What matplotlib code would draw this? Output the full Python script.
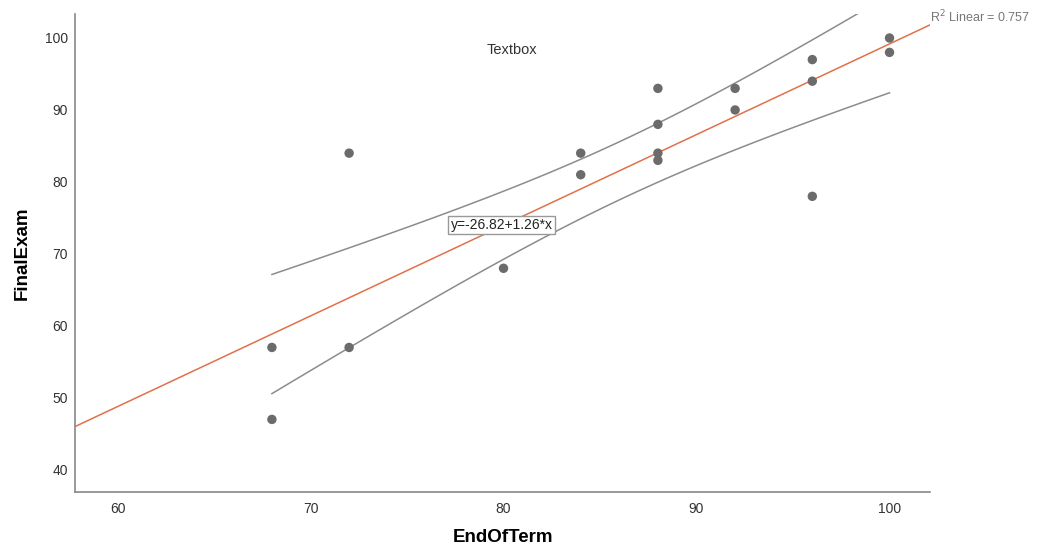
import numpy as np
import matplotlib.pyplot as plt

plt.rcParams['font.family'] = ['Liberation Sans', 'DejaVu Sans']

# DATA
end_of_term = [68, 68, 72, 72, 80, 84, 84, 88, 88, 88, 88, 92, 92, 96, 96, 96, 100, 100]
final_exam = [57, 47, 84, 57, 68, 84, 81, 93, 88, 84, 83, 93, 90, 97, 94, 78, 100, 98]

# FIT AS PRINTED ON THE CHART
intercept = -26.82
slope = 1.26
r_squared = 0.757
t_crit = 2.120  # t(0.975, df=16)

x = np.array(end_of_term, dtype=float)
y = np.array(final_exam, dtype=float)
n = len(x)
resid = y - (intercept + slope * x)
s = np.sqrt(np.sum(resid**2) / (n - 2))
sxx = np.sum((x - x.mean())**2)

x_lo, x_hi = 57.8, 102.1
fit_x = np.linspace(x_lo, x_hi, 100)
band_x = np.linspace(x.min(), x.max(), 100)
band_fit = intercept + slope * band_x
half = t_crit * s * np.sqrt(1 / n + (band_x - x.mean())**2 / sxx)

fig = plt.figure(figsize=(10.38, 5.48), dpi=100)
ax = fig.add_axes([0.0723, 0.102, 0.8237, 0.872])

ax.plot(fit_x, intercept + slope * fit_x, color="#e2704a", lw=1.1, zorder=2)
ax.plot(band_x, band_fit + half, color="#8c8c8c", lw=1.1, zorder=2)
ax.plot(band_x, band_fit - half, color="#8c8c8c", lw=1.1, zorder=2)
ax.scatter(x, y, s=46, color="#6b6b6b", edgecolors="none", zorder=3)

# TEXT
ax.text(x_hi, intercept + slope * x_hi, "R$^2$ Linear = %.3f" % r_squared, color="#777777",
        fontsize=9, ha="left", va="bottom", clip_on=False)
ax.text(80.45, 98.3, "Textbox", fontsize=10.5, color="#333333", ha="center", va="center")
ax.text(79.9, 74.0, "y=-26.82+1.26*x", fontsize=10, color="#222222", ha="center", va="center",
        bbox=dict(boxstyle="square,pad=0.15", fc="white", ec="#999999", lw=1))

# AXES STYLE
ax.set_xlim(x_lo, x_hi)
ax.set_ylim(36.9, 103.3)
ax.set_xticks([60, 70, 80, 90, 100])
ax.set_yticks([40, 50, 60, 70, 80, 90, 100])
ax.tick_params(length=0, labelsize=10, labelcolor="#333333")
ax.tick_params(axis="x", pad=7)
ax.tick_params(axis="y", pad=5)
for side in ["top", "right"]:
    ax.spines[side].set_visible(False)
for side in ["left", "bottom"]:
    ax.spines[side].set_color("#888888")
    ax.spines[side].set_linewidth(1.2)
ax.set_xlabel("EndOfTerm", fontsize=13.5, fontweight="bold", va="center")
ax.set_ylabel("FinalExam", fontsize=13.5, fontweight="bold", va="center")
ax.xaxis.set_label_coords(0.5, -0.096)
ax.yaxis.set_label_coords(-0.062, 0.5)

plt.savefig("out.png", dpi=100)
